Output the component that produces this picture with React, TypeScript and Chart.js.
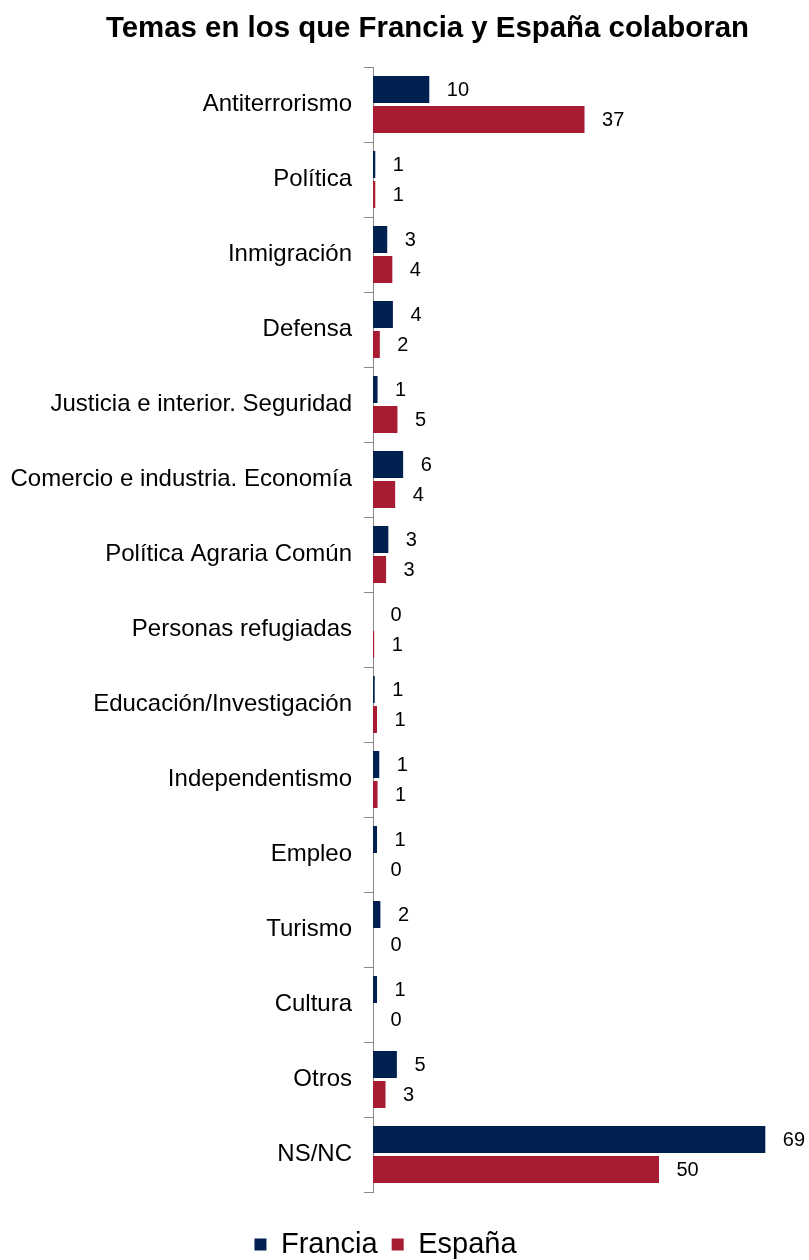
import React, { useEffect, useRef } from "react";
import { Chart, registerables } from "chart.js";

Chart.register(...registerables);

const title = "Temas en los que Francia y España colaboran";

const categories = [
  "Antiterrorismo",
  "Política",
  "Inmigración",
  "Defensa",
  "Justicia e interior. Seguridad",
  "Comercio e industria. Economía",
  "Política Agraria Común",
  "Personas refugiadas",
  "Educación/Investigación",
  "Independentismo",
  "Empleo",
  "Turismo",
  "Cultura",
  "Otros",
  "NS/NC",
];

const franciaValues = [9.9, 0.4, 2.5, 3.5, 0.8, 5.3, 2.7, 0, 0.3, 1.1, 0.7, 1.3, 0.7, 4.2, 69];
const espanaValues = [37.2, 0.4, 3.4, 1.2, 4.3, 3.9, 2.3, 0.2, 0.7, 0.8, 0, 0, 0, 2.2, 50.3];

const franciaLabels = ["10", "1", "3", "4", "1", "6", "3", "0", "1", "1", "1", "2", "1", "5", "69"];
const espanaLabels = ["37", "1", "4", "2", "5", "4", "3", "1", "1", "1", "0", "0", "0", "3", "50"];

const seriesNames = ["Francia", "España"];
const seriesColors = ["#002050", "#A71C32"];

const FONT = '"Liberation Sans", Arial, sans-serif';

const titlePlugin = {
  id: "customTitle",
  afterDraw(chart: any) {
    const ctx = chart.ctx;
    ctx.save();
    ctx.font = `bold 29.4px ${FONT}`;
    ctx.fillStyle = "#000";
    ctx.textAlign = "center";
    ctx.textBaseline = "alphabetic";
    ctx.fillText(title, 427.5, 36.5);
    ctx.restore();
  },
};

const valueLabelPlugin = {
  id: "valueLabels",
  afterDatasetsDraw(chart: any) {
    const ctx = chart.ctx;
    const allLabels = [franciaLabels, espanaLabels];
    ctx.save();
    ctx.font = `20px ${FONT}`;
    ctx.fillStyle = "#000";
    ctx.textAlign = "left";
    ctx.textBaseline = "middle";
    chart.data.datasets.forEach((_ds: any, di: number) => {
      const meta = chart.getDatasetMeta(di);
      meta.data.forEach((el: any, i: number) => {
        ctx.fillText(allLabels[di][i], el.x + 17.5, el.y + 1);
      });
    });
    ctx.restore();
  },
};

export default function App() {
  const canvasRef = useRef<HTMLCanvasElement | null>(null);

  useEffect(() => {
    if (!canvasRef.current) return;
    const chart = new Chart(canvasRef.current, {
      type: "bar",
      data: {
        labels: categories,
        datasets: [
          {
            label: seriesNames[0],
            data: franciaValues,
            backgroundColor: seriesColors[0],
            categoryPercentage: 0.8,
            barPercentage: 0.9,
          },
          {
            label: seriesNames[1],
            data: espanaValues,
            backgroundColor: seriesColors[1],
            categoryPercentage: 0.8,
            barPercentage: 0.9,
          },
        ],
      },
      options: {
        indexAxis: "y",
        responsive: false,
        animation: false,
        devicePixelRatio: 1,
        layout: { padding: { top: 67, left: 0, right: 38, bottom: -9 } },
        scales: {
          x: {
            type: "linear",
            min: 0,
            max: 70,
            display: true,
            ticks: { display: false },
            grid: { display: false },
            border: { display: false },
            afterFit: (scale: any) => {
              scale.height = 24;
            },
          },
          y: {
            type: "category",
            ticks: {
              autoSkip: false,
              color: "#000",
              padding: 12,
              font: { family: FONT, size: 24 },
            },
            grid: {
              display: true,
              drawOnChartArea: false,
              drawTicks: true,
              tickLength: 9,
              color: "#888888",
              offset: true,
            },
            border: { display: true, color: "#888888", width: 1 },
            afterFit: (scale: any) => {
              scale.width = 373;
            },
          },
        },
        plugins: {
          title: { display: false },
          tooltip: { enabled: false },
          legend: {
            display: true,
            position: "bottom",
            labels: {
              boxWidth: 12,
              boxHeight: 12,
              padding: 14,
              color: "#000",
              font: { family: FONT, size: 29 },
            },
          },
        },
      },
      plugins: [titlePlugin, valueLabelPlugin],
    } as any);
    return () => chart.destroy();
  }, []);

  return (
    <div style={{ position: "absolute", left: 0, top: 0, width: 809, height: 1260, overflow: "hidden", background: "#fff" }}>
      <canvas ref={canvasRef} width={809} height={1260} style={{ width: 809, height: 1260, display: "block" }} />
    </div>
  );
}
